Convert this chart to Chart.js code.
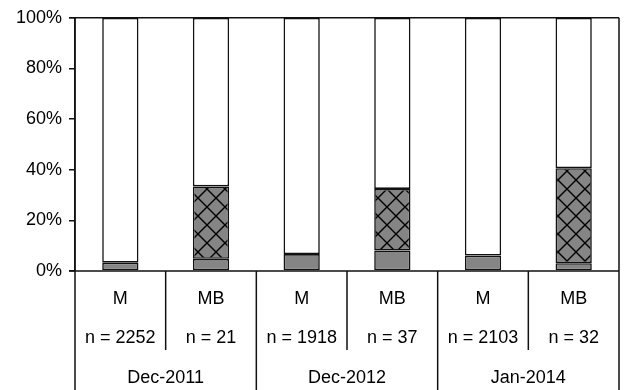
<!DOCTYPE html>
<html>
<head>
<meta charset="utf-8">
<style>
  html, body { margin: 0; padding: 0; background: #fff; }
  #wrap { width: 624px; height: 390px; }
</style>
<script src="https://cdn.jsdelivr.net/npm/chart.js@4/dist/chart.umd.min.js"></script>
</head>
<body>
<div id="wrap"><canvas id="c" width="624" height="390"></canvas></div>
<script>
// Category rows of the axis table
const types   = ['M', 'MB', 'M', 'MB', 'M', 'MB'];
const counts  = ['n = 2252', 'n = 21', 'n = 1918', 'n = 37', 'n = 2103', 'n = 32'];
const periods = ['Dec-2011', 'Dec-2012', 'Jan-2014'];

// Shares in percent
const solidShare   = [3.3, 4.8, 6.7, 8.1, 6.1, 3.1];
const hatchedShare = [0, 28.6, 0, 24.3, 0, 37.5];
const restShare    = solidShare.map((v, i) => 100 - v - hatchedShare[i]);

const yTicks = [0, 20, 40, 60, 80, 100];

const FONT = 'Liberation Sans, Arial, sans-serif';
const LINE = '#111';

// diagonal lattice fill
function latticePattern() {
  const s = 18;
  const p = document.createElement('canvas');
  p.width = s; p.height = s;
  const g = p.getContext('2d');
  g.fillStyle = '#858585';
  g.fillRect(0, 0, s, s);
  g.strokeStyle = '#000';
  g.lineWidth = 1.4;
  g.beginPath();
  g.moveTo(0, 0); g.lineTo(s, s);
  g.moveTo(s, 0); g.lineTo(0, s);
  g.stroke();
  return document.getElementById('c').getContext('2d').createPattern(p, 'repeat');
}

const axisTable = {
  id: 'axisTable',
  afterDraw(chart) {
    const { ctx, chartArea: a, scales: { x } } = chart;
    const H = chart.height;
    ctx.save();
    ctx.strokeStyle = LINE;
    ctx.lineWidth = 1.5;
    ctx.beginPath();
    // frame: top line, right edge, left edge extension, baseline
    ctx.moveTo(a.left - 6, a.top); ctx.lineTo(a.right, a.top);
    ctx.moveTo(a.right, a.top); ctx.lineTo(a.right, H);
    ctx.moveTo(a.left, a.top); ctx.lineTo(a.left, H);
    ctx.moveTo(a.left - 6, a.bottom); ctx.lineTo(a.right, a.bottom);
    // separators between columns
    for (let i = 1; i < types.length; i++) {
      const xs = (x.getPixelForValue(i - 1) + x.getPixelForValue(i)) / 2;
      const groupEdge = i % 2 === 0;
      ctx.moveTo(xs, a.bottom);
      ctx.lineTo(xs, groupEdge ? H : a.bottom + 79);
    }
    ctx.stroke();

    ctx.fillStyle = '#000';
    ctx.font = '18px ' + FONT;
    ctx.textAlign = 'center';
    ctx.textBaseline = 'middle';
    types.forEach((t, i) => {
      const cx = x.getPixelForValue(i);
      ctx.fillText(t, cx, a.bottom + 28);
      ctx.fillText(counts[i], cx, a.bottom + 67);
    });
    periods.forEach((p, j) => {
      const cx = (x.getPixelForValue(2 * j) + x.getPixelForValue(2 * j + 1)) / 2;
      ctx.fillText(p, cx, a.bottom + 107);
    });
    ctx.restore();
  }
};

const barStyle = {
  borderColor: LINE,
  borderWidth: 1.6,
  borderSkipped: false,
  barPercentage: 0.4,
  categoryPercentage: 1.0
};

new Chart(document.getElementById('c'), {
  type: 'bar',
  data: {
    labels: types.map((t, i) => t + ' ' + counts[i]),
    datasets: [
      Object.assign({ label: 'solid', data: solidShare, backgroundColor: '#858585' }, barStyle),
      Object.assign({ label: 'hatched', data: hatchedShare, backgroundColor: latticePattern() }, barStyle),
      Object.assign({ label: 'rest', data: restShare, backgroundColor: '#ffffff' }, barStyle)
    ]
  },
  options: {
    responsive: false,
    animation: false,
    events: [],
    layout: { padding: { top: 14, right: 5, bottom: 119, left: 0 } },
    plugins: { legend: { display: false }, tooltip: { enabled: false } },
    scales: {
      x: { stacked: true, display: false },
      y: {
        stacked: true,
        min: 0, max: 100,
        afterFit(s) { s.width = 75; },
        afterBuildTicks(s) { s.ticks = yTicks.map(v => ({ value: v })); },
        border: { display: true, color: LINE, width: 1.5 },
        grid: { drawOnChartArea: false, drawTicks: true, tickLength: 6, color: LINE, lineWidth: 1.5 },
        ticks: {
          padding: 7,
          color: '#000',
          font: { family: FONT, size: 18 },
          callback: v => v + '%'
        }
      }
    }
  },
  plugins: [axisTable]
});
</script>
</body>
</html>
